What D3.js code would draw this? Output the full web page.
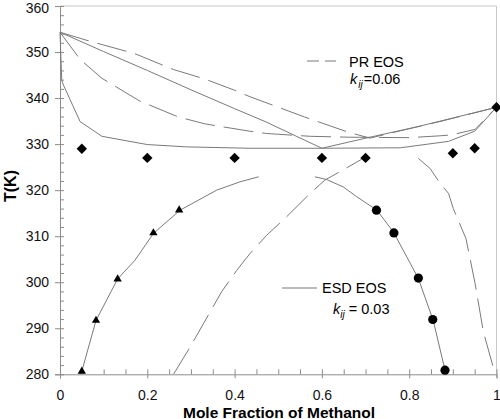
<!DOCTYPE html>
<html><head><meta charset="utf-8">
<script src="https://cdn.jsdelivr.net/npm/d3@7"></script>
<style>
body{margin:0;background:#fff;}
text{font-family:Arial,"Liberation Sans",sans-serif;}
</style></head>
<body><svg id="c" width="500" height="419"></svg>
<script>
// ---------- data ----------
const xTicks = [0, 0.2, 0.4, 0.6, 0.8, 1];
const xTickLabels = ["0", "0.2", "0.4", "0.6", "0.8", "1"];
const yTicks = [280, 290, 300, 310, 320, 330, 340, 350, 360];

// ESD EOS (solid) curves
const esdDewX = [0, 0.1, 0.2, 0.3, 0.4, 0.47, 0.6, 0.71, 0.82, 1];
const esdDewT = [354.3, 350.1, 346.0, 341.8, 337.7, 334.9, 329.1, 331.5, 333.8, 338.0];
const esdBubX = [0, 0.002, 0.004, 0.008, 0.046, 0.096, 0.2, 0.29, 0.435, 0.6, 0.78, 0.89, 0.95, 1];
const esdBubT = [354.3, 349.0, 343.9, 342.8, 334.9, 331.7, 329.9, 329.4, 329.1, 329.1, 329.2, 330.6, 332.8, 338.0];
const esdLLELeftX = [0.046, 0.05, 0.0825, 0.132, 0.172, 0.214, 0.275, 0.359, 0.412, 0.455];
const esdLLELeftT = [280.0, 280.65, 291.7, 300.7, 304.8, 310.6, 315.65, 320.0, 321.8, 322.9];
const esdLLERightX = [0.584, 0.611, 0.649, 0.68, 0.726, 0.764, 0.821, 0.855, 0.882, 0.888];
const esdLLERightT = [322.9, 322.3, 320.7, 318.55, 315.65, 310.9, 300.8, 291.7, 280.9, 280.0];

// PR EOS (dashed) curves
const prDewX = [0, 0.07, 0.17, 0.26, 0.33, 0.4, 0.435, 0.56, 0.66, 0.71, 0.78, 0.87, 1];
const prDewT = [354.3, 352.3, 349.7, 346.2, 344.2, 341.7, 340.3, 335.9, 332.6, 331.3, 332.9, 334.9, 338.0];
const prBubX = [0, 0.046, 0.096, 0.16, 0.183, 0.271, 0.332, 0.37, 0.435, 0.4735, 0.573, 0.664, 0.8, 0.87, 0.897, 0.951, 1];
const prBubT = [354.3, 348.4, 344.3, 340.65, 339.35, 335.9, 334.4, 333.8, 332.8, 332.3, 331.7, 331.5, 331.4, 331.8, 332.0, 333.2, 338.0];
const prLLELeftX = [0.26, 0.298, 0.37, 0.405, 0.435, 0.4735, 0.519, 0.573, 0.607, 0.641, 0.691];
const prLLELeftT = [280.0, 285.9, 297.9, 302.6, 306.2, 310.2, 314.2, 319.3, 322.2, 324.0, 326.7];
const prLLERightX = [0.821, 0.848, 0.871, 0.89, 0.901, 0.93, 0.951, 0.97, 0.9966];
const prLLERightT = [326.9, 324.7, 321.45, 319.3, 316.0, 309.5, 299.7, 289.2, 280.15];

// experimental points
const vleX = [0.05, 0.2, 0.4, 0.6, 0.7, 0.9, 0.95, 1.0];
const vleT = [329.0, 327.0, 327.0, 327.0, 327.0, 328.0, 329.1, 338.0];
const lleLeftX = [0.05, 0.0825, 0.132, 0.214, 0.273];
const lleLeftT = [280.65, 291.7, 300.7, 310.7, 315.65];
const lleRightX = [0.725, 0.765, 0.821, 0.854, 0.882];
const lleRightT = [315.65, 310.7, 300.9, 291.9, 280.9];

// ---------- chart ----------
const svg = d3.select("#c");
const x = d3.scaleLinear().domain([0, 1]).range([60, 496.5]);
const y = d3.scaleLinear().domain([280, 360]).range([374.3, 6]);
const zip = (xs, ts) => xs.map((v, i) => [v, ts[i]]);
const line = d3.line().x(d => x(d[0])).y(d => y(d[1]));
const lineColor = "#7a7a7a";
const axisColor = "#8c8c8c";

// frame (top & right)
svg.append("path")
  .attr("d", `M${x(0)},${y(360)}H${x(1)}V${y(280)}`)
  .attr("fill", "none").attr("stroke", "#c8c8c8").attr("stroke-width", 1);

// left axis: major (outside) + minor (inside)
const yMinor = d3.range(280, 360.1, 2);
const gL = svg.append("g").attr("transform", `translate(${x(0)},0)`)
  .call(d3.axisLeft(y).tickValues(yTicks).tickSize(5).tickPadding(6).tickFormat(d3.format("d")));
svg.append("g").attr("transform", `translate(${x(0)},0)`)
  .call(d3.axisRight(y).tickValues(yMinor).tickSize(4).tickFormat(""))
  .select(".domain").remove();

// bottom axis: major (outside) + minor (inside)
const xMinor = d3.range(0, 1.0001, 0.05);
svg.append("g").attr("transform", `translate(0,${y(280)})`)
  .call(d3.axisBottom(x).tickValues(xTicks).tickSize(4).tickPadding(12).tickFormat((d, i) => xTickLabels[i]));
svg.append("g").attr("transform", `translate(0,${y(280)})`)
  .call(d3.axisTop(x).tickValues(xMinor).tickSize(5).tickFormat(""))
  .select(".domain").remove();

svg.selectAll(".domain").attr("stroke", axisColor);
svg.selectAll(".tick line").attr("stroke", axisColor);
svg.selectAll(".tick text").attr("font-size", 14).attr("fill", "#111")
  .attr("font-family", "Arial, 'Liberation Sans', sans-serif");
// keep the top label inside the page
gL.selectAll(".tick text").filter(d => d === 360).attr("dy", "0.45em");

// curves
const solid = [zip(esdDewX, esdDewT), zip(esdBubX, esdBubT), zip(esdLLELeftX, esdLLELeftT), zip(esdLLERightX, esdLLERightT)];
const dashed = [zip(prDewX, prDewT), zip(prBubX, prBubT), zip(prLLELeftX, prLLELeftT), zip(prLLERightX, prLLERightT)];
svg.append("g").selectAll("path").data(solid).join("path")
  .attr("d", line).attr("fill", "none").attr("stroke", lineColor).attr("stroke-width", 1);
svg.append("g").selectAll("path").data(dashed).join("path")
  .attr("d", line).attr("fill", "none").attr("stroke", lineColor).attr("stroke-width", 1)
  .attr("stroke-dasharray", "30,9");

// markers
svg.append("g").selectAll("path").data(zip(vleX, vleT)).join("path")
  .attr("transform", d => `translate(${x(d[0])},${y(d[1])})`)
  .attr("d", "M0,-5.2L5.2,0L0,5.2L-5.2,0Z").attr("fill", "#000");
svg.append("g").selectAll("path").data(zip(lleLeftX, lleLeftT)).join("path")
  .attr("transform", d => `translate(${x(d[0])},${y(d[1])})`)
  .attr("d", d3.symbol(d3.symbolTriangle, 30)).attr("fill", "#000");
svg.append("g").selectAll("circle").data(zip(lleRightX, lleRightT)).join("circle")
  .attr("cx", d => x(d[0])).attr("cy", d => y(d[1])).attr("r", 4.6).attr("fill", "#000");

// legend: PR EOS
svg.append("line").attr("x1", 307).attr("x2", 336).attr("y1", 61).attr("y2", 61)
  .attr("stroke", lineColor).attr("stroke-width", 1.2).attr("stroke-dasharray", "12,6");
svg.append("text").attr("x", 349).attr("y", 66.5).attr("font-size", 14.5).text("PR EOS");
const k1 = svg.append("text").attr("x", 350).attr("y", 84).attr("font-size", 14.5);
k1.append("tspan").attr("font-style", "italic").text("k");
k1.append("tspan").attr("font-style", "italic").attr("font-size", 10).attr("dy", 4).attr("dx", 1).text("ij");
k1.append("tspan").attr("dy", -4).attr("dx", 1).text("=0.06");

// legend: ESD EOS
svg.append("line").attr("x1", 282).attr("x2", 317).attr("y1", 288).attr("y2", 288)
  .attr("stroke", lineColor).attr("stroke-width", 1.2);
svg.append("text").attr("x", 322).attr("y", 293).attr("font-size", 14.5).text("ESD EOS");
const k2 = svg.append("text").attr("x", 333).attr("y", 314).attr("font-size", 14.5);
k2.append("tspan").attr("font-style", "italic").text("k");
k2.append("tspan").attr("font-style", "italic").attr("font-size", 10).attr("dy", 4).text("ij");
k2.append("tspan").attr("dy", -4).text(" = 0.03");

// axis titles
svg.append("text").attr("transform", "translate(16,186) rotate(-90)")
  .attr("text-anchor", "middle").attr("font-weight", "bold").attr("font-size", 16).text("T(K)");
svg.append("text").attr("x", 279).attr("y", 417.5)
  .attr("text-anchor", "middle").attr("font-weight", "bold").attr("font-size", 15.5).text("Mole Fraction of Methanol");
</script></body></html>
